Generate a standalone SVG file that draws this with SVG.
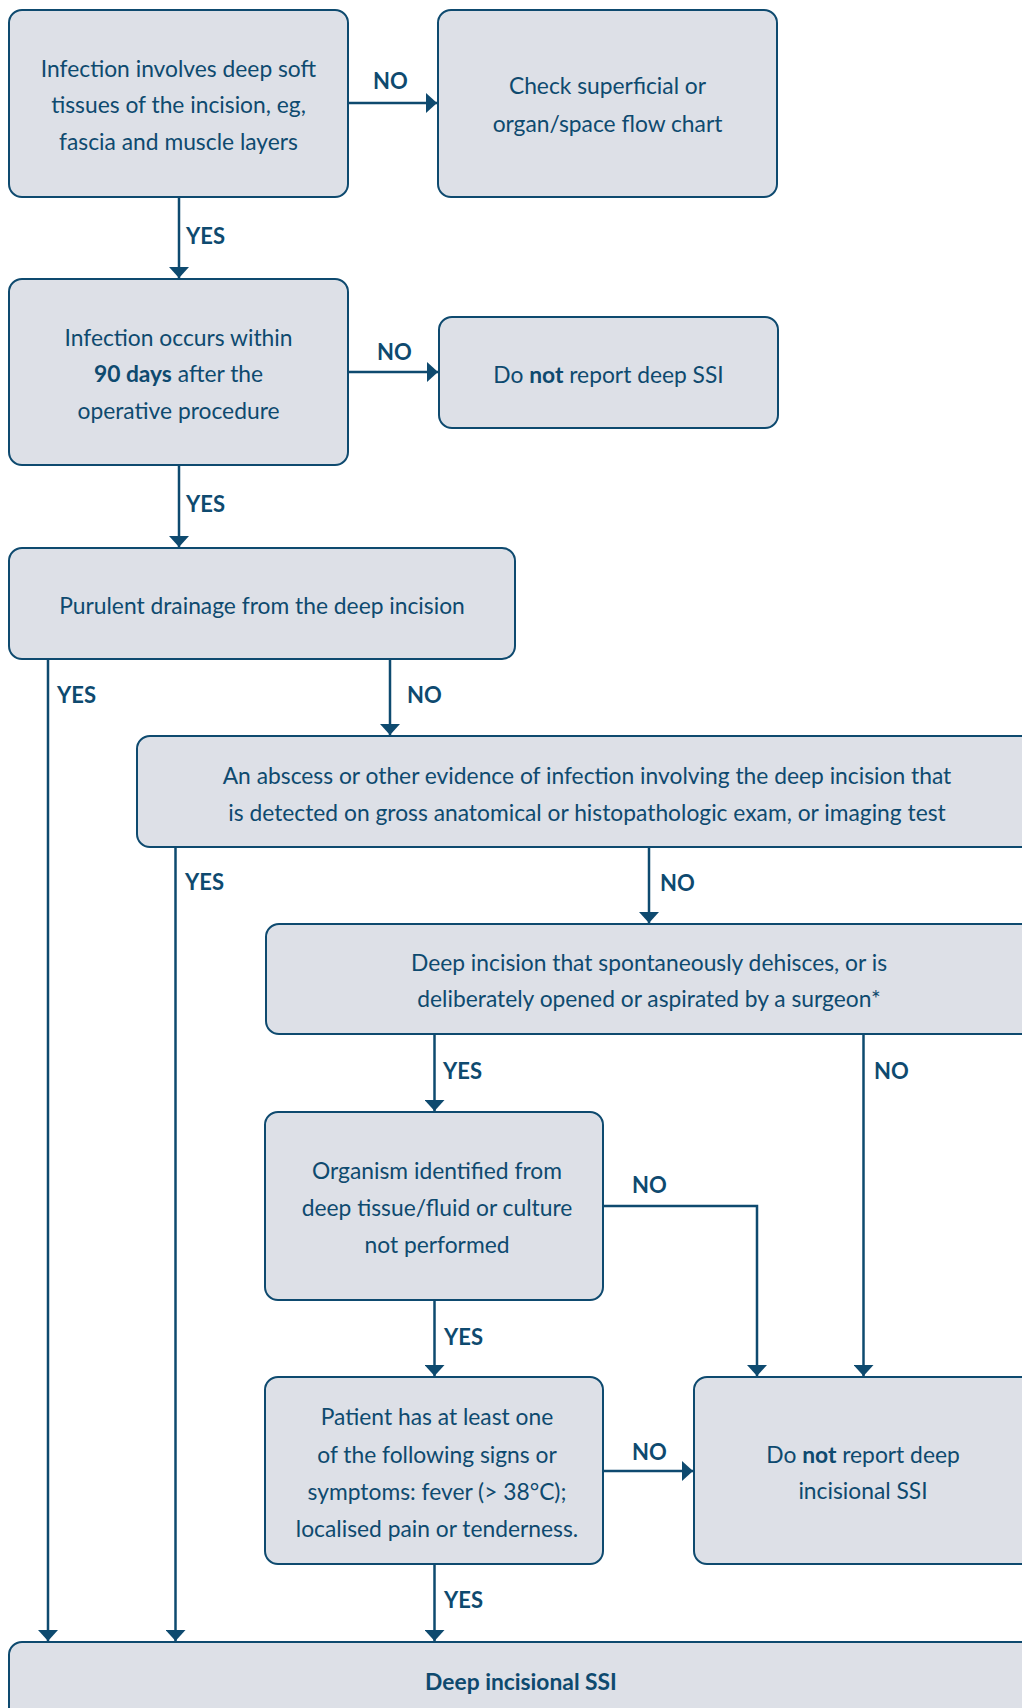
<svg xmlns="http://www.w3.org/2000/svg" width="1022" height="1708" viewBox="0 0 1022 1708">
  <defs>
    <marker id="arrow" markerUnits="userSpaceOnUse" markerWidth="12" markerHeight="20" refX="11" refY="10" orient="auto">
      <path d="M0,0 L11,10 L0,20 z" fill="#0e4a6f"/>
    </marker>
    <style>
      .box { fill: #dde0e7; stroke: #0e4a6f; stroke-width: 2; }
      .txt { font-family: Lato, "Liberation Sans", sans-serif; font-size: 22.8px; fill: #0e4a6f; text-anchor: middle; }
      .txt .b { font-weight: bold; }
      .edge { fill: none; stroke: #0e4a6f; stroke-width: 2.5; marker-end: url(#arrow); }
      .lbl { font-family: Lato, "Liberation Sans", sans-serif; font-size: 22px; font-weight: bold; fill: #0e4a6f; }
    </style>
  </defs>
  <rect width="1022" height="1708" fill="#ffffff"/>

  <!-- connectors -->
  <g id="connectors">
    <path class="edge" d="M348,103 H437"/>
    <text class="lbl" x="373" y="89">NO</text>
    <path class="edge" d="M179,197 V278"/>
    <text class="lbl" x="186" y="244">YES</text>
    <path class="edge" d="M348,372 H438"/>
    <text class="lbl" x="377" y="360">NO</text>
    <path class="edge" d="M179,465 V547"/>
    <text class="lbl" x="186" y="512">YES</text>
    <path class="edge" d="M48,659 V1641"/>
    <text class="lbl" x="57" y="703">YES</text>
    <path class="edge" d="M390,659 V735"/>
    <text class="lbl" x="407" y="703">NO</text>
    <path class="edge" d="M175.5,847 V1641"/>
    <text class="lbl" x="185" y="890">YES</text>
    <path class="edge" d="M649,847 V923"/>
    <text class="lbl" x="660" y="891">NO</text>
    <path class="edge" d="M434.5,1034 V1111"/>
    <text class="lbl" x="443" y="1079">YES</text>
    <path class="edge" d="M863.5,1034 V1376"/>
    <text class="lbl" x="874" y="1079">NO</text>
    <path class="edge" d="M603,1206 H757 V1376"/>
    <text class="lbl" x="632" y="1193">NO</text>
    <path class="edge" d="M434.5,1300 V1376"/>
    <text class="lbl" x="444" y="1345">YES</text>
    <path class="edge" d="M603,1471 H693"/>
    <text class="lbl" x="632" y="1460">NO</text>
    <path class="edge" d="M434.5,1564 V1641"/>
    <text class="lbl" x="444" y="1608">YES</text>
  </g>

  <g id="n1">
    <rect class="box" x="9" y="10" width="339" height="187" rx="13"/>
    <text class="txt" x="178.5" y="77">Infection involves deep soft</text>
    <text class="txt" x="178.5" y="113">tissues of the incision, eg,</text>
    <text class="txt" x="178.5" y="150">fascia and muscle layers</text>
  </g>
  <g id="n2">
    <rect class="box" x="438" y="10" width="339" height="187" rx="13"/>
    <text class="txt" x="607.5" y="94">Check superficial or</text>
    <text class="txt" x="607.5" y="132">organ/space flow chart</text>
  </g>
  <g id="n3">
    <rect class="box" x="9" y="279" width="339" height="186" rx="13"/>
    <text class="txt" x="178.5" y="346">Infection occurs within</text>
    <text class="txt" x="178.5" y="382"><tspan class="b">90 days</tspan> after the</text>
    <text class="txt" x="178.5" y="419">operative procedure</text>
  </g>
  <g id="n4">
    <rect class="box" x="439" y="317" width="339" height="111" rx="13"/>
    <text class="txt" x="608.5" y="383">Do <tspan class="b">not</tspan> report deep SSI</text>
  </g>
  <g id="n5">
    <rect class="box" x="9" y="548" width="506" height="111" rx="13"/>
    <text class="txt" x="262" y="614">Purulent drainage from the deep incision</text>
  </g>
  <g id="n6">
    <rect class="box" x="137" y="736" width="898" height="111" rx="13"/>
    <text class="txt" x="587" y="784">An abscess or other evidence of infection involving the deep incision that</text>
    <text class="txt" x="587" y="821">is detected on gross anatomical or histopathologic exam, or imaging test</text>
  </g>
  <g id="n7">
    <rect class="box" x="266" y="924" width="769" height="110" rx="13"/>
    <text class="txt" x="649" y="971">Deep incision that spontaneously dehisces, or is</text>
    <text class="txt" x="649" y="1007">deliberately opened or aspirated by a surgeon*</text>
  </g>
  <g id="n8">
    <rect class="box" x="265" y="1112" width="338" height="188" rx="13"/>
    <text class="txt" x="437" y="1179">Organism identified from</text>
    <text class="txt" x="437" y="1216">deep tissue/fluid or culture</text>
    <text class="txt" x="437" y="1253">not performed</text>
  </g>
  <g id="n9">
    <rect class="box" x="265" y="1377" width="338" height="187" rx="13"/>
    <text class="txt" x="437" y="1425">Patient has at least one</text>
    <text class="txt" x="437" y="1462.5">of the following signs or</text>
    <text class="txt" x="437" y="1500">symptoms: fever (&gt; 38°C);</text>
    <text class="txt" x="437" y="1537">localised pain or tenderness.</text>
  </g>
  <g id="n10">
    <rect class="box" x="694" y="1377" width="341" height="187" rx="13"/>
    <text class="txt" x="863" y="1462.5">Do <tspan class="b">not</tspan> report deep</text>
    <text class="txt" x="863" y="1499">incisional SSI</text>
  </g>
  <g id="n11">
    <rect class="box" x="9" y="1642" width="1026" height="110" rx="13"/>
    <text class="txt" x="521" y="1690"><tspan class="b">Deep incisional SSI</tspan></text>
  </g>
</svg>
